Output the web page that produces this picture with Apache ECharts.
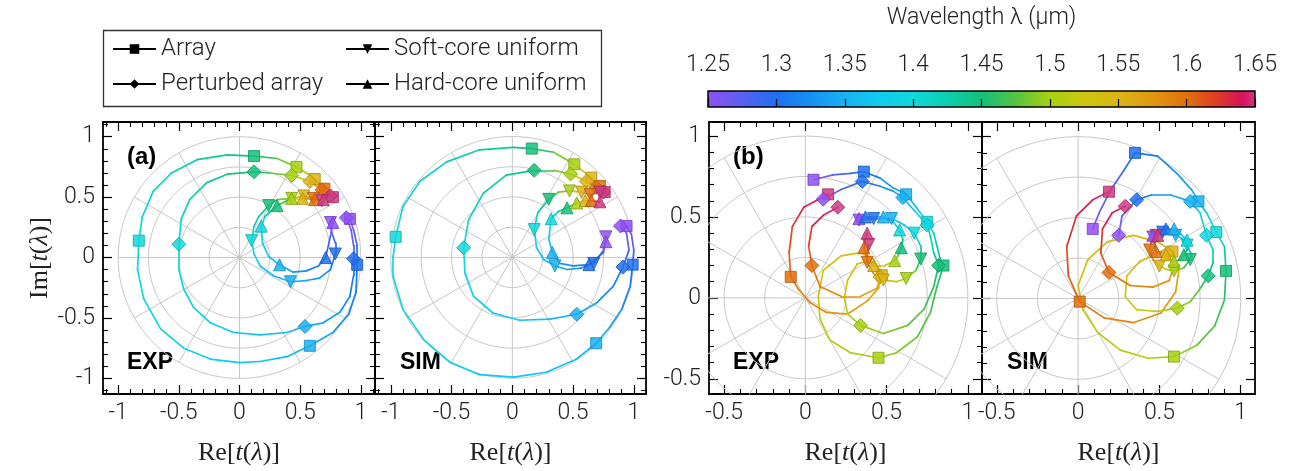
<!DOCTYPE html>
<html><head><meta charset="utf-8">
<script src="https://cdn.jsdelivr.net/npm/echarts@6/dist/echarts.min.js"></script>
<style>html,body{margin:0;padding:0;background:#fff}#c{width:1296px;height:471px}</style>
</head><body><div id="c"></div>
<script>
// ================= DATA =================
const WAVELENGTH_TICKS = [1.25, 1.3, 1.35, 1.4, 1.45, 1.5, 1.55, 1.6, 1.65];
const SERIES_NAMES = ['Array', 'Perturbed array', 'Soft-core uniform', 'Hard-core uniform'];
const PANEL_LABELS = ['(a)', '', '(b)', ''];
const PANEL_TAGS = ['EXP', 'SIM', 'EXP', 'SIM'];
const TICKS_A_MAJOR = [-1, -0.5, 0, 0.5, 1];
const TICKS_A_MINOR = [-1.1, -0.9, -0.8, -0.7, -0.6, -0.4, -0.3, -0.2, -0.1, 0.1, 0.2, 0.3, 0.4, 0.6, 0.7, 0.8, 0.9, 1.1];
const TICKS_B_MAJOR = [-0.5, 0, 0.5, 1];
const TICKS_B_MINOR = [-0.4, -0.3, -0.2, -0.1, 0.1, 0.2, 0.3, 0.4, 0.6, 0.7, 0.8, 0.9];
const RINGS = [0.25, 0.5, 0.75, 1];
const SPOKE_DEG = [0, 30, 60, 90, 120, 150, 180, 210, 240, 270, 300, 330];

// each point: [wavelength (µm), Re t, Im t]
const A_EXP_ARRAY = [[1.25,0.91,0.32],[1.26,0.94,0.23],[1.28,0.97,0.10],[1.30,0.97,-0.06],[1.31,0.96,-0.29],[1.32,0.90,-0.47],[1.335,0.77,-0.62],[1.35,0.58,-0.73],[1.36,0.39,-0.82],[1.37,0.17,-0.86],[1.375,0.0,-0.87],[1.38,-0.24,-0.84],[1.385,-0.46,-0.75],[1.39,-0.65,-0.59],[1.395,-0.79,-0.34],[1.398,-0.84,-0.10],[1.40,-0.83,0.14],[1.405,-0.80,0.34],[1.41,-0.71,0.55],[1.42,-0.56,0.70],[1.43,-0.35,0.81],[1.44,-0.10,0.85],[1.45,0.12,0.84],[1.47,0.31,0.82],[1.50,0.47,0.75],[1.52,0.55,0.70],[1.55,0.62,0.65],[1.60,0.70,0.57],[1.65,0.77,0.50]];
const A_EXP_PERT = [[1.25,0.88,0.33],[1.26,0.92,0.23],[1.28,0.94,0.10],[1.30,0.94,-0.01],[1.31,0.94,-0.15],[1.32,0.91,-0.32],[1.33,0.83,-0.45],[1.34,0.69,-0.54],[1.35,0.54,-0.57],[1.36,0.39,-0.62],[1.365,0.17,-0.64],[1.37,-0.05,-0.62],[1.38,-0.24,-0.54],[1.385,-0.38,-0.41],[1.39,-0.46,-0.26],[1.395,-0.50,-0.10],[1.40,-0.50,0.11],[1.41,-0.48,0.32],[1.42,-0.41,0.48],[1.43,-0.27,0.62],[1.44,-0.10,0.69],[1.45,0.12,0.71],[1.47,0.25,0.70],[1.50,0.43,0.68],[1.55,0.58,0.63],[1.60,0.68,0.56],[1.65,0.75,0.51]];
const A_EXP_SOFT = [[1.25,0.75,0.29],[1.27,0.76,0.21],[1.285,0.79,0.12],[1.30,0.79,0.03],[1.315,0.75,-0.10],[1.33,0.66,-0.17],[1.34,0.55,-0.19],[1.35,0.42,-0.20],[1.36,0.28,-0.15],[1.375,0.17,-0.07],[1.39,0.12,0.03],[1.40,0.10,0.14],[1.415,0.12,0.26],[1.43,0.16,0.34],[1.45,0.24,0.43],[1.47,0.31,0.48],[1.50,0.43,0.49],[1.55,0.53,0.51],[1.60,0.61,0.49],[1.65,0.68,0.47]];
const A_EXP_HARD = [[1.25,0.77,0.29],[1.275,0.75,0.18],[1.30,0.71,0.0],[1.31,0.65,-0.07],[1.32,0.55,-0.11],[1.335,0.44,-0.12],[1.35,0.33,-0.06],[1.37,0.24,0.01],[1.385,0.19,0.12],[1.40,0.18,0.26],[1.42,0.21,0.34],[1.45,0.31,0.43],[1.50,0.43,0.49],[1.55,0.52,0.49],[1.60,0.62,0.48],[1.65,0.69,0.48]];

const A_SIM_ARRAY = [[1.25,0.94,0.26],[1.26,0.98,0.19],[1.28,1.00,0.06],[1.30,0.99,-0.06],[1.31,0.97,-0.24],[1.325,0.90,-0.43],[1.34,0.80,-0.58],[1.35,0.69,-0.71],[1.36,0.53,-0.84],[1.365,0.28,-0.95],[1.37,0.01,-0.99],[1.375,-0.27,-0.97],[1.38,-0.51,-0.87],[1.385,-0.73,-0.68],[1.39,-0.90,-0.43],[1.395,-0.98,-0.16],[1.398,-0.98,0.01],[1.40,-0.96,0.17],[1.405,-0.90,0.42],[1.41,-0.76,0.63],[1.42,-0.54,0.79],[1.43,-0.27,0.89],[1.44,0.01,0.91],[1.45,0.16,0.90],[1.47,0.34,0.87],[1.50,0.51,0.77],[1.55,0.65,0.66],[1.60,0.72,0.59],[1.65,0.76,0.54]];
const A_SIM_PERT = [[1.25,0.89,0.26],[1.26,0.94,0.20],[1.28,0.96,0.06],[1.30,0.91,-0.08],[1.315,0.83,-0.24],[1.33,0.69,-0.38],[1.35,0.53,-0.47],[1.36,0.31,-0.51],[1.37,0.06,-0.52],[1.38,-0.16,-0.46],[1.385,-0.32,-0.32],[1.395,-0.39,-0.13],[1.40,-0.40,0.08],[1.41,-0.36,0.31],[1.42,-0.24,0.53],[1.435,-0.05,0.68],[1.45,0.18,0.72],[1.475,0.34,0.72],[1.50,0.48,0.69],[1.55,0.61,0.63],[1.60,0.69,0.58],[1.65,0.75,0.54]];
const A_SIM_SOFT = [[1.25,0.77,0.17],[1.275,0.75,0.06],[1.30,0.67,-0.05],[1.32,0.56,-0.09],[1.335,0.45,-0.10],[1.35,0.35,-0.07],[1.365,0.26,-0.02],[1.38,0.20,0.08],[1.40,0.18,0.23],[1.425,0.21,0.37],[1.45,0.30,0.48],[1.475,0.38,0.54],[1.50,0.47,0.55],[1.55,0.57,0.54],[1.60,0.64,0.52],[1.65,0.72,0.54]];
const A_SIM_HARD = [[1.25,0.77,0.13],[1.275,0.75,0.04],[1.30,0.63,-0.06],[1.32,0.50,-0.07],[1.335,0.39,-0.05],[1.35,0.33,0.04],[1.375,0.30,0.15],[1.40,0.32,0.32],[1.425,0.38,0.38],[1.45,0.45,0.41],[1.50,0.53,0.45],[1.55,0.60,0.47],[1.60,0.65,0.47],[1.65,0.72,0.46]];

const B_EXP_ARRAY = [[1.25,0.05,0.73],[1.27,0.17,0.76],[1.285,0.28,0.77],[1.30,0.36,0.78],[1.32,0.46,0.74],[1.335,0.54,0.68],[1.35,0.62,0.64],[1.375,0.69,0.55],[1.40,0.75,0.47],[1.415,0.79,0.40],[1.43,0.81,0.32],[1.44,0.83,0.24],[1.45,0.85,0.20],[1.46,0.81,0.07],[1.47,0.77,-0.09],[1.48,0.69,-0.24],[1.49,0.56,-0.34],[1.50,0.45,-0.37],[1.51,0.28,-0.34],[1.515,0.15,-0.26],[1.52,0.09,-0.13],[1.525,0.08,0.01],[1.53,0.11,0.17],[1.535,0.22,0.26],[1.54,0.34,0.28],[1.545,0.42,0.24],[1.55,0.47,0.14],[1.555,0.45,0.06],[1.565,0.38,-0.02],[1.575,0.26,-0.10],[1.58,0.13,-0.09],[1.585,0.03,-0.03],[1.59,-0.04,0.05],[1.60,-0.09,0.13],[1.61,-0.10,0.28],[1.62,-0.08,0.44],[1.635,-0.01,0.56],[1.65,0.14,0.64]];
const B_EXP_PERT = [[1.25,0.11,0.61],[1.275,0.22,0.67],[1.30,0.35,0.72],[1.32,0.46,0.69],[1.335,0.54,0.66],[1.35,0.60,0.62],[1.375,0.67,0.54],[1.40,0.75,0.45],[1.415,0.77,0.38],[1.43,0.79,0.28],[1.45,0.82,0.20],[1.46,0.79,0.07],[1.47,0.73,-0.07],[1.48,0.63,-0.17],[1.49,0.48,-0.22],[1.50,0.34,-0.17],[1.51,0.26,-0.10],[1.52,0.24,0.0],[1.53,0.26,0.11],[1.535,0.32,0.21],[1.54,0.40,0.23],[1.545,0.45,0.19],[1.55,0.46,0.13],[1.56,0.44,0.06],[1.57,0.34,0.01],[1.58,0.22,0.01],[1.59,0.09,0.07],[1.60,0.04,0.20],[1.615,0.02,0.32],[1.63,0.04,0.44],[1.64,0.11,0.51],[1.65,0.20,0.56]];
const B_EXP_SOFT = [[1.25,0.33,0.48],[1.30,0.42,0.49],[1.33,0.48,0.49],[1.35,0.53,0.49],[1.375,0.61,0.45],[1.40,0.67,0.40],[1.425,0.71,0.32],[1.45,0.71,0.24],[1.475,0.68,0.17],[1.50,0.62,0.12],[1.52,0.56,0.10],[1.55,0.48,0.11],[1.575,0.42,0.15],[1.60,0.38,0.22],[1.625,0.38,0.28],[1.65,0.39,0.33]];
const B_EXP_HARD = [[1.25,0.33,0.49],[1.30,0.37,0.50],[1.35,0.48,0.50],[1.375,0.54,0.47],[1.40,0.58,0.42],[1.425,0.60,0.36],[1.45,0.59,0.31],[1.475,0.57,0.26],[1.50,0.55,0.23],[1.525,0.49,0.20],[1.55,0.42,0.20],[1.575,0.38,0.24],[1.60,0.36,0.31],[1.625,0.37,0.36],[1.65,0.38,0.40]];

const B_SIM_ARRAY = [[1.25,0.09,0.43],[1.26,0.13,0.53],[1.275,0.20,0.67],[1.29,0.28,0.79],[1.30,0.35,0.90],[1.315,0.49,0.88],[1.33,0.61,0.77],[1.34,0.70,0.67],[1.35,0.74,0.60],[1.375,0.79,0.53],[1.40,0.85,0.41],[1.42,0.90,0.32],[1.45,0.91,0.17],[1.46,0.90,-0.01],[1.47,0.84,-0.17],[1.485,0.73,-0.29],[1.50,0.59,-0.36],[1.51,0.43,-0.37],[1.515,0.26,-0.32],[1.52,0.12,-0.21],[1.525,0.03,-0.07],[1.53,0.00,0.08],[1.535,0.06,0.24],[1.54,0.18,0.35],[1.545,0.34,0.39],[1.548,0.49,0.35],[1.55,0.58,0.29],[1.56,0.62,0.18],[1.57,0.60,0.04],[1.58,0.51,-0.09],[1.585,0.34,-0.15],[1.59,0.16,-0.12],[1.60,0.01,-0.02],[1.61,-0.06,0.14],[1.62,-0.07,0.32],[1.63,-0.01,0.51],[1.64,0.09,0.61],[1.65,0.19,0.66]];
const B_SIM_PERT = [[1.25,0.25,0.39],[1.275,0.27,0.51],[1.30,0.36,0.61],[1.32,0.45,0.64],[1.335,0.57,0.64],[1.35,0.69,0.60],[1.375,0.75,0.53],[1.40,0.79,0.39],[1.42,0.83,0.30],[1.435,0.83,0.22],[1.45,0.80,0.14],[1.47,0.75,0.06],[1.485,0.69,-0.02],[1.50,0.61,-0.06],[1.51,0.49,-0.08],[1.52,0.36,-0.07],[1.53,0.29,0.01],[1.535,0.30,0.14],[1.54,0.38,0.23],[1.545,0.49,0.28],[1.55,0.55,0.28],[1.56,0.59,0.20],[1.57,0.56,0.11],[1.58,0.46,0.07],[1.59,0.32,0.08],[1.60,0.19,0.16],[1.615,0.14,0.28],[1.63,0.15,0.43],[1.64,0.21,0.53],[1.65,0.29,0.57]];
const B_SIM_SOFT = [[1.25,0.46,0.38],[1.275,0.49,0.41],[1.30,0.52,0.41],[1.35,0.60,0.39],[1.375,0.64,0.37],[1.40,0.67,0.33],[1.425,0.69,0.28],[1.45,0.69,0.24],[1.475,0.65,0.19],[1.50,0.59,0.17],[1.525,0.54,0.18],[1.55,0.50,0.20],[1.575,0.46,0.24],[1.60,0.44,0.30],[1.625,0.45,0.35],[1.65,0.48,0.39]];
const B_SIM_HARD = [[1.25,0.46,0.39],[1.30,0.54,0.43],[1.35,0.59,0.43],[1.375,0.63,0.40],[1.40,0.67,0.36],[1.425,0.67,0.30],[1.45,0.65,0.27],[1.475,0.63,0.24],[1.50,0.59,0.23],[1.525,0.56,0.24],[1.55,0.54,0.27],[1.575,0.51,0.29],[1.60,0.48,0.29],[1.625,0.47,0.34],[1.65,0.49,0.39]];

// ================= STYLE =================
const CMAP = [[1.25,'#9150f5'],[1.275,'#5a60f2'],[1.30,'#1e70f0'],[1.325,'#1590f2'],[1.35,'#18b2f2'],[1.375,'#10cbee'],[1.40,'#10d8dc'],[1.425,'#0ccfb0'],[1.45,'#14c07a'],[1.475,'#55c440'],[1.50,'#a8d012'],[1.525,'#ccc60e'],[1.55,'#dcb414'],[1.575,'#e0980e'],[1.60,'#e0700e'],[1.62,'#e04020'],[1.64,'#d8105a'],[1.65,'#cf3a80']];
function h2r(h){return [1,3,5].map(i=>parseInt(h.substr(i,2),16));}
function r2h(c){return '#'+c.map(v=>Math.max(0,Math.min(255,Math.round(v))).toString(16).padStart(2,'0')).join('');}
function colorAt(l){
  if(l<=CMAP[0][0]) return CMAP[0][1];
  for(let i=1;i<CMAP.length;i++){
    if(l<=CMAP[i][0]){const t=(l-CMAP[i-1][0])/(CMAP[i][0]-CMAP[i-1][0]);const a=h2r(CMAP[i-1][1]),b=h2r(CMAP[i][1]);return r2h(a.map((v,k)=>v+(b[k]-v)*t));}
  }
  return CMAP[CMAP.length-1][1];
}
function darker(h,f){return r2h(h2r(h).map(v=>v*f));}
function isTick(l){return WAVELENGTH_TICKS.some(t=>Math.abs(t-l)<1e-9);}

const FONT='Roboto';
const LBL={fontFamily:FONT,fontSize:23,fontWeight:300,color:'#222'};
const SERIF_RICH={r:{fontFamily:'Liberation Serif',fontSize:26,color:'#222'},i:{fontFamily:'Liberation Serif',fontStyle:'italic',fontSize:26,color:'#222'}};
const SHAPES=[{symbol:'rect',size:11,rot:0},{symbol:'diamond',size:14,rot:0},{symbol:'triangle',size:12,rot:180},{symbol:'triangle',size:12,rot:0}];

const PANELS=[
 {curves:[A_EXP_ARRAY,A_EXP_PERT,A_EXP_SOFT,A_EXP_HARD],left:103,top:122,w:272,h:273,xr:[-1.125,1.117],yr:[-1.129,1.122],major:TICKS_A_MAJOR,minor:TICKS_A_MINOR,yLab:true,yName:true},
 {curves:[A_SIM_ARRAY,A_SIM_PERT,A_SIM_SOFT,A_SIM_HARD],left:375,top:122,w:271,h:273,xr:[-1.13,1.10],yr:[-1.13,1.12],major:TICKS_A_MAJOR,minor:TICKS_A_MINOR,yLab:false,yName:false},
 {curves:[B_EXP_ARRAY,B_EXP_PERT,B_EXP_SOFT,B_EXP_HARD],left:709,top:122,w:273,h:273,xr:[-0.593,1.087],yr:[-0.594,1.087],major:TICKS_B_MAJOR,minor:TICKS_B_MINOR,yLab:true,yName:false},
 {curves:[B_SIM_ARRAY,B_SIM_PERT,B_SIM_SOFT,B_SIM_HARD],left:982,top:122,w:273,h:273,xr:[-0.591,1.088],yr:[-0.591,1.091],major:TICKS_B_MAJOR,minor:TICKS_B_MINOR,yLab:false,yName:false}
];

const grid=[],xAxis=[],yAxis=[],series=[],graphic=[];
const NAME_X='{r|Re[}{i|t}{r|(}{i|λ}{r|)]}';
const NAME_Y='{r|Im[}{i|t}{r|(}{i|λ}{r|)]}';

function axisPair(dim,p,pi,pos,major,withLabel,name){
  const base={gridIndex:pi,type:'value',min:(dim==='x'?p.xr:p.yr)[0],max:(dim==='x'?p.xr:p.yr)[1],position:pos,splitLine:{show:false},silent:true};
  const a1=Object.assign({},base,{
    axisLine:{show:true,onZero:false,lineStyle:{color:'#000',width:1.8}},
    axisTick:{show:true,inside:true,length:9,customValues:major,lineStyle:{color:'#000',width:1.2}},
    axisLabel:{show:withLabel,customValues:major,margin:8,...LBL}
  });
  if(name){Object.assign(a1,name);}
  const a2=Object.assign({},base,{
    axisLine:{show:false,onZero:false},
    axisTick:{show:true,inside:true,length:5,customValues:p.minor,lineStyle:{color:'#000',width:1.1}},
    axisLabel:{show:false}
  });
  return [a1,a2];
}

PANELS.forEach((p,pi)=>{
  grid.push({left:p.left,top:p.top,width:p.w,height:p.h,show:false});
  const xi=xAxis.length, yi=yAxis.length;
  xAxis.push(...axisPair('x',p,pi,'bottom',p.major,true,{name:NAME_X,nameLocation:'middle',nameGap:46,nameTextStyle:{rich:SERIF_RICH}}));
  xAxis.push(...axisPair('x',p,pi,'top',p.major,false,null));
  yAxis.push(...axisPair('y',p,pi,'left',p.major,p.yLab,p.yName?{name:NAME_Y,nameLocation:'middle',nameGap:38,nameRotate:90,nameTextStyle:{rich:SERIF_RICH}}:null));
  yAxis.push(...axisPair('y',p,pi,'right',p.major,false,null));
  // polar guide grid
  const gd=[];
  RINGS.forEach(r=>{for(let k=0;k<=240;k++){const a=k/240*2*Math.PI;gd.push([r*Math.cos(a),r*Math.sin(a)]);}gd.push(['-','-']);});
  SPOKE_DEG.forEach(d=>{const a=d*Math.PI/180;gd.push([0,0]);gd.push([Math.cos(a),Math.sin(a)]);gd.push(['-','-']);});
  series.push({type:'line',xAxisIndex:xi,yAxisIndex:yi,data:gd,showSymbol:false,symbol:'none',silent:true,clip:true,connectNulls:false,lineStyle:{color:'#c6c6c6',width:1},z:1,animation:false});
  // curves
  const segs=[];
  p.curves.forEach(c=>{for(let i=0;i<c.length-1;i++){segs.push({coords:[[c[i][1],c[i][2]],[c[i+1][1],c[i+1][2]]],lineStyle:{color:colorAt((c[i][0]+c[i+1][0])/2)}});}});
  series.push({type:'lines',coordinateSystem:'cartesian2d',xAxisIndex:xi,yAxisIndex:yi,data:segs,lineStyle:{width:1.7,opacity:1,cap:'round',join:'round'},silent:true,z:3,animation:false});
  // markers
  p.curves.forEach((c,ci)=>{
    const sh=SHAPES[ci];
    series.push({type:'scatter',xAxisIndex:xi,yAxisIndex:yi,symbol:sh.symbol,symbolSize:sh.size,symbolRotate:sh.rot,silent:true,z:4,animation:false,
      data:c.filter(pt=>isTick(pt[0])).map(pt=>{const col=colorAt(pt[0]);return {value:[pt[1],pt[2]],itemStyle:{color:col,borderColor:darker(col,0.8),borderWidth:1,opacity:0.85}};})});
  });
  if(PANEL_LABELS[pi]) graphic.push({type:'text',left:p.left+24,top:p.top+23,style:{text:PANEL_LABELS[pi],font:'bold 24px "Liberation Sans", Arial',fill:'#000'}});
  graphic.push({type:'text',left:p.left+(pi%2===0?24:25),top:p.top+229,style:{text:PANEL_TAGS[pi],font:'bold 23px "Liberation Sans", Arial',fill:'#000'}});
});

// legend dummy series (black)
SERIES_NAMES.forEach((n,i)=>{
  series.push({type:'line',name:n,xAxisIndex:0,yAxisIndex:0,data:[],symbol:SHAPES[i].symbol,symbolSize:9,symbolRotate:SHAPES[i].rot,color:'#000',lineStyle:{color:'#000',width:1.5},itemStyle:{color:'#000'}});
});

// colorbar
const CB={left:708,top:91,width:547,height:16};
grid.push({left:CB.left,top:CB.top,width:CB.width,height:CB.height,show:true,borderColor:'#000',borderWidth:1.5,
  backgroundColor:{type:'linear',x:0,y:0,x2:1,y2:0,colorStops:CMAP.map(([l,c])=>({offset:(l-1.25)/0.4,color:c}))}});
xAxis.push({gridIndex:4,type:'value',min:1.25,max:1.65,interval:0.05,position:'top',splitLine:{show:false},
  axisLine:{show:false},axisTick:{show:true,inside:false,length:8,lineStyle:{color:'#000',width:1.2}},
  axisLabel:{show:true,margin:14,...LBL,formatter:v=>String(+v.toFixed(2))},
  name:'Wavelength λ (μm)',nameLocation:'middle',nameGap:61,nameTextStyle:{fontFamily:FONT,fontSize:23,fontWeight:300,color:'#222'}});
yAxis.push({gridIndex:4,type:'value',min:0,max:1,show:false});

graphic.push({type:'rect',left:101,top:28,shape:{width:498,height:76},style:{fill:'none',stroke:'#333',lineWidth:1.3}});

const LEG_TXT={...LBL,fontSize:24};
const option={
  animation:false,
  backgroundColor:'#fff',
  grid,xAxis,yAxis,series,graphic,
  legend:[
    {left:112,top:37,padding:0,orient:'vertical',itemGap:11,itemWidth:43,itemHeight:12,data:SERIES_NAMES.slice(0,2),textStyle:LEG_TXT,selectedMode:false},
    {left:345,top:37,padding:0,orient:'vertical',itemGap:11,itemWidth:43,itemHeight:12,data:SERIES_NAMES.slice(2,4),textStyle:LEG_TXT,selectedMode:false}
  ]
};
const chart=echarts.init(document.getElementById('c'));
chart.setOption(option);
</script></body></html>
